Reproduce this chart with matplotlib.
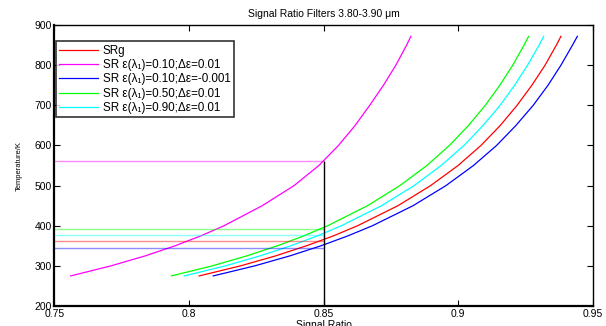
import matplotlib
matplotlib.use("Agg")
import matplotlib.pyplot as plt

plt.rcParams['font.family'] = ['Liberation Sans', 'DejaVu Sans']

# temperature points (K)
temp = [275, 300, 325, 350, 375, 400, 450, 500, 550, 600, 650, 700, 750, 800, 850, 872]

# signal ratio for each case
sr_g = [0.8038, 0.8191, 0.8322, 0.8436, 0.8537, 0.8626, 0.8776, 0.8897, 0.8999, 0.9084,
        0.9156, 0.9218, 0.9273, 0.9322, 0.9364, 0.9381]
sr_010 = [0.7561, 0.7710, 0.7838, 0.7948, 0.8045, 0.8130, 0.8272, 0.8390, 0.8482, 0.8555,
          0.8617, 0.8671, 0.8722, 0.8768, 0.8808, 0.8824]
sr_010_neg = [0.8090, 0.8244, 0.8375, 0.8490, 0.8591, 0.8681, 0.8832, 0.8954, 0.9056, 0.9142,
              0.9214, 0.9278, 0.9333, 0.9381, 0.9424, 0.9442]
sr_050 = [0.7935, 0.8086, 0.8215, 0.8328, 0.8427, 0.8515, 0.8663, 0.8783, 0.8883, 0.8967,
          0.9038, 0.9100, 0.9154, 0.9202, 0.9244, 0.9261]
sr_090 = [0.7983, 0.8135, 0.8264, 0.8378, 0.8478, 0.8566, 0.8715, 0.8836, 0.8936, 0.9021,
          0.9092, 0.9155, 0.9209, 0.9257, 0.9300, 0.9317]

labels = ["SRg",
          "SR ε(λ₁)=0.10;Δε=0.01",
          "SR ε(λ₁)=0.10;Δε=-0.001",
          "SR ε(λ₁)=0.50;Δε=0.01",
          "SR ε(λ₁)=0.90;Δε=0.01"]
colors = ["#ff0000", "#ff00ff", "#0000ff", "#00ff00", "#00ffff"]

# temperature where each curve meets SR = 0.85
sr_cut = 0.85
cross_temp = [363, 562, 345, 393, 377]

fig = plt.figure(figsize=(6.06, 3.26), dpi=100)
ax = fig.add_axes([0.0896, 0.0613, 0.8889, 0.8617])

series = [sr_g, sr_010, sr_010_neg, sr_050, sr_090]
for s, lab, c in zip(series, labels, colors):
    ax.plot(s, temp, color=c, lw=0.9, label=lab)

for t, c in zip(cross_temp, colors):
    ax.hlines(t, 0.75, sr_cut, color=c, lw=1.0, alpha=0.45)
ax.vlines(sr_cut, 200, max(cross_temp), color="black", lw=1.0)

ax.set_xlim(0.75, 0.95)
ax.set_ylim(200, 900)
ax.set_xticks([0.75, 0.8, 0.85, 0.9, 0.95])
ax.set_xticklabels(["0.75", "0.8", "0.85", "0.9", "0.95"])
ax.set_yticks(range(200, 901, 100))
ax.tick_params(direction="in", top=True, right=True, labelsize=7.5, length=4, width=0.8, pad=2)
for side in ["left", "bottom"]:
    ax.spines[side].set_linewidth(1.6)
for side in ["top", "right"]:
    ax.spines[side].set_linewidth(1.0)

ax.set_title("Signal Ratio Filters 3.80-3.90 μm", fontsize=7.5, pad=6)
ax.set_xlabel("Signal Ratio", fontsize=7.5, labelpad=1)
ax.set_ylabel("Temperature/K", fontsize=5.5, labelpad=8)

leg = ax.legend(loc="upper left", bbox_to_anchor=(0.003, 0.943), borderaxespad=0,
                fontsize=8.4, frameon=True, fancybox=False, handlelength=3.3,
                handletextpad=0.4, labelspacing=0.2, borderpad=0.3)
leg.get_frame().set_edgecolor("black")
leg.get_frame().set_linewidth(1.2)

fig.savefig("out.png", dpi=100)
